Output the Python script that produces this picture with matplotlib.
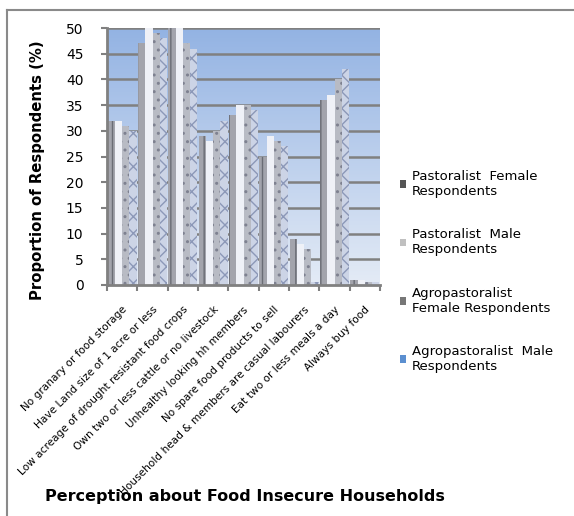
import numpy
from matplotlib import pyplot
from matplotlib.patches import Patch
from matplotlib.lines import Line2D

Categories = ['No granary or food storage',
              'Have Land size of 1 acre or less',
              'Low acreage of drought resistant food crops',
              'Own two or less cattle or no livestock',
              'Unhealthy looking hh members',
              'No spare food products to sell',
              'Household head & members are casual labourers',
              'Eat two or less meals a day',
              'Always buy food']
SeriesNames = ['Pastoralist  Female\nRespondents',
               'Pastoralist  Male\nRespondents',
               'Agropastoralist\nFemale Respondents',
               'Agropastoralist  Male\nRespondents']
PastoralistFemale = [32, 47, 50, 29, 33, 25, 9, 36, 1]
PastoralistMale = [32, 50, 50, 28, 35, 29, 8, 37, 1]
AgroFemale = [31, 49, 47, 30, 35, 28, 7, 40, 0.5]
AgroMale = [30, 48, 46, 32, 34, 27, 0.5, 42, 0.5]
YTicks = [0, 5, 10, 15, 20, 25, 30, 35, 40, 45, 50]

Faces = ['#a3a4ac', '#eff1f7', '#b8bbc4', '#ccd4e6']
Hatches = ['||', '', '..', 'xx']
HatchEdges = ['#6a6c74', '#d8dbe4', '#7e8190', '#8c98b8']
Markers = ['#555555', '#c0c0c0', '#777777', '#5b8fd0']


def Run():
  fig = pyplot.figure(figsize=(5.74, 5.16), dpi=100)
  # Outer frame (top and left edges visible in the original).
  fig.add_artist(Line2D([7 / 574., 1.0], [1 - 10 / 516., 1 - 10 / 516.], color='#8a8a8a', linewidth=1.5))
  fig.add_artist(Line2D([7 / 574., 7 / 574.], [0.0, 1 - 10 / 516.], color='#8a8a8a', linewidth=1.5))

  ax = fig.add_axes([107 / 574., 1 - 285 / 516., 273 / 574., 257 / 516.])

  # Blue gradient background.
  grad = numpy.linspace(0, 1, 256).reshape(-1, 1)
  top = numpy.array([0x93, 0xb3, 0xe3]) / 255.
  bot = numpy.array([0xe4, 0xeb, 0xf6]) / 255.
  img = bot[None, None, :] * (1 - grad[:, :, None]) + top[None, None, :] * grad[:, :, None]
  ax.imshow(img, extent=(-0.5, len(Categories) - 0.5, 0, 50), origin='lower', aspect='auto', zorder=0)

  for y in YTicks[1:]:
    ax.axhline(y, color='#808080', linewidth=1.8, zorder=1)

  series = [PastoralistFemale, PastoralistMale, AgroFemale, AgroMale]
  x = numpy.arange(len(Categories))
  w = 0.24
  for i, vals in enumerate(series):
    ax.bar(x + (i - 1.5) * w, vals, width=w, color=Faces[i], hatch=Hatches[i],
           edgecolor=HatchEdges[i], linewidth=0, zorder=2)

  ax.set_xlim(-0.5, len(Categories) - 0.5)
  ax.set_ylim(0, 50)
  ax.set_yticks(YTicks)
  ax.tick_params(axis='y', labelsize=10, length=4, color='#808080', width=1.5, pad=13)
  ax.set_xticks(numpy.arange(len(Categories) + 1) - 0.5, minor=True)
  ax.set_xticks(x)
  ax.set_xticklabels(Categories, rotation=45, ha='right', rotation_mode='anchor', fontsize=7.6)
  ax.tick_params(axis='x', which='major', length=0, pad=14)
  ax.tick_params(axis='x', which='minor', length=4, color='#808080', width=1.5)
  for side in ('top', 'right'):
    ax.spines[side].set_visible(False)
  for side in ('left', 'bottom'):
    ax.spines[side].set_color('#808080')
    ax.spines[side].set_linewidth(2)

  fig.text(38 / 574., 1 - 170 / 516., 'Proportion of Respondents (%)', rotation=90,
           fontsize=10.7, fontweight='bold', va='center', ha='center')
  fig.text(45 / 574., 1 - 497 / 516., 'Perception about Food Insecure Households',
           fontsize=11.5, fontweight='bold', va='center', ha='left')

  handles = [Patch(facecolor=c, edgecolor='none') for c in Markers]
  fig.legend(handles, SeriesNames, loc='upper left', bbox_to_anchor=(388 / 574., 1 - 158 / 516.),
             frameon=False, fontsize=9.5, handlelength=0.5, handleheight=0.5, handletextpad=0.4,
             labelspacing=2.3)

  fig.savefig('out.png', dpi=100)


if __name__ == '__main__':
  Run()
